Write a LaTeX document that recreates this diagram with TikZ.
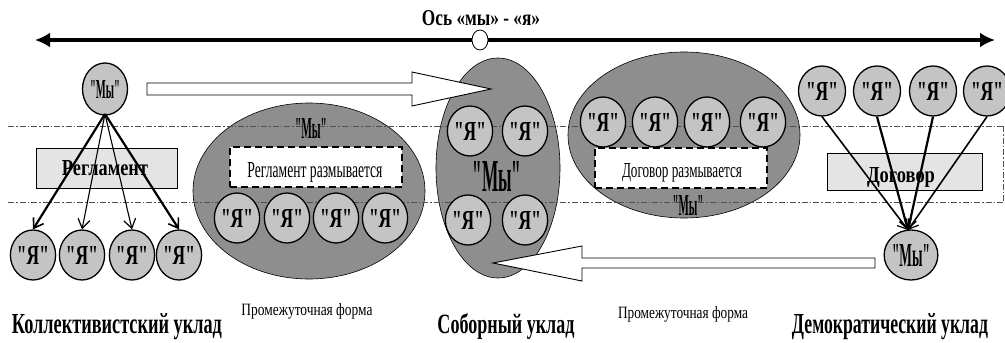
\documentclass[tikz,border=0pt]{standalone}
\usepackage{fontspec}
\setmainfont{Liberation Serif}[Ligatures=TeXOff]
\usepackage{graphicx}
\usetikzlibrary{shapes.geometric,arrows.meta}
\definecolor{bigfill}{HTML}{8E8E8E}
\definecolor{smallfill}{HTML}{C4C4C4}
\definecolor{boxfill}{HTML}{E4E4E4}
\definecolor{guidecol}{HTML}{505050}
\newcommand{\fitt}[3]{\resizebox{#1pt}{#2pt}{\bfseries #3}}
\newcommand{\fitn}[3]{\resizebox{#1pt}{#2pt}{#3}}
\newcommand{\qq}{"}
\newcommand{\Ya}{\fitt{32}{18}{\qq Я\qq}}
\begin{document}
\begin{tikzpicture}[x=1pt,y=-1pt,
  ya/.style={ellipse,draw,line width=1.3pt,fill=smallfill,minimum width=45pt,minimum height=50pt,inner sep=0pt},
  big/.style={ellipse,draw,line width=0.6pt,fill=bigfill,inner sep=0pt},
  rulebox/.style={rectangle,draw,line width=0.6pt,fill=boxfill,inner sep=0pt},
  dashbox/.style={rectangle,draw,line width=1.6pt,dash pattern=on 7pt off 4pt,fill=white,inner sep=0pt},
  guide/.style={line width=0.7pt,dash pattern=on 6pt off 2pt on 1.5pt off 2pt,guidecol},
  lbl/.style={inner sep=0pt,anchor=base},
  thickarr/.style={line width=2.2pt,-{Straight Barb[length=9pt,width=12pt,line width=1.6pt]}},
  thinarr/.style={line width=1.1pt,-{Straight Barb[length=9pt,width=12pt,line width=1.2pt]}},
  hollow/.style={draw,line width=0.9pt,fill=white,line join=miter}
]
\useasboundingbox (0,0) rectangle (1005,343);

% axis
\coordinate (axL) at (35,40);
\coordinate (axR) at (995,40);
\draw[line width=3.5pt,{Latex[length=15pt,width=15pt]}-{Latex[length=15pt,width=15pt]}] (axL) -- (axR);
\node[ellipse,draw,line width=0.8pt,fill=white,minimum width=16pt,minimum height=20pt,inner sep=0pt] (mid) at (480,40) {};
\node[lbl] (title) at (481,25) {\fitt{118}{15}{Ось «мы» - «я»}};

% big ellipses
\node[big,minimum width=232pt,minimum height=176pt] (eL) at (309,191) {};
\node[big,minimum width=124pt,minimum height=220pt] (eM) at (498,168) {};
\node[big,minimum width=232pt,minimum height=166pt] (eR) at (684,135) {};

% guide lines
\draw[guide] (8,126) -- (1003,126);
\draw[guide] (8,202) -- (1003,202);
\draw[guide] (1003,126) -- (1003,202);

% left: collectivist
\node[rulebox,minimum width=141pt,minimum height=40pt] (reg) at (106.5,168) {};
\node[lbl] (regt) at (105,175) {\fitt{86}{15}{Регламент}};
\node[ya,minimum width=45pt,minimum height=52pt] (myL) at (105,89) {\fitt{30}{18}{\qq Мы\qq}};
\node[ya] (yL1) at (33,255) {\Ya};
\node[ya] (yL2) at (82,255) {\Ya};
\node[ya] (yL3) at (132,255) {\Ya};
\node[ya] (yL4) at (179,255) {\Ya};
\coordinate (myLb) at (105,114);
\draw[thickarr] (myLb) -- (yL1.north);
\draw[thinarr] (myLb) -- (yL2.north);
\draw[thinarr] (myLb) -- (yL3.north);
\draw[thickarr] (myLb) -- (yL4.north);
\node[lbl] (coll) at (117,333) {\fitt{210}{20}{Коллективистский уклад}};

% left intermediate
\node[lbl] (myE1) at (311,138) {\fitt{32}{20}{\qq Мы\qq}};
\node[dashbox,minimum width=172pt,minimum height=40pt] (regR) at (316,167) {};
\node[lbl] (regRt) at (315,177) {\fitn{135}{15}{Регламент размывается}};
\node[ya] (yE1) at (237,218) {\Ya};
\node[ya] (yE2) at (287,218) {\Ya};
\node[ya] (yE3) at (336,218) {\Ya};
\node[ya] (yE4) at (385,218) {\Ya};
\node[lbl] (pf1) at (307,315) {\fitn{131}{12}{Промежуточная форма}};

% middle sobornyi
\node[ya] (yM1) at (470,131) {\Ya};
\node[ya] (yM2) at (525,131) {\Ya};
\node[ya] (yM3) at (468,220) {\Ya};
\node[ya] (yM4) at (525,220) {\Ya};
\node (myM) at (497,176) {\fitt{49}{30}{\qq Мы\qq}};
\node[lbl] (sob) at (506,333) {\fitt{137}{20}{Соборный уклад}};

% right intermediate
\node[ya] (yD1) at (603,122) {\Ya};
\node[ya] (yD2) at (655,122) {\Ya};
\node[ya] (yD3) at (707,122) {\Ya};
\node[ya] (yD4) at (763,122) {\Ya};
\node[dashbox,minimum width=172pt,minimum height=40pt] (dogR) at (681,168) {};
\node[lbl] (dogRt) at (682,177) {\fitn{120}{14}{Договор размывается}};
\node[lbl] (myE2) at (688,215) {\fitt{31}{20}{\qq Мы\qq}};
\node[lbl] (pf2) at (683,318) {\fitn{130}{12}{Промежуточная форма}};

% right: democratic
\node[rulebox,minimum width=155pt,minimum height=37pt] (dog) at (904.5,171.5) {};
\node[lbl] (dogt) at (901,182) {\fitt{68}{15}{Договор}};
\node[ya,minimum width=47pt] (yR1) at (822,91) {\Ya};
\node[ya,minimum width=47pt] (yR2) at (877,91) {\Ya};
\node[ya,minimum width=47pt] (yR3) at (933,91) {\Ya};
\node[ya,minimum width=47pt] (yR4) at (987,91) {\Ya};
\node[ya,minimum width=48pt,minimum height=50pt] (myR) at (911,255) {\fitt{38}{22}{\qq Мы\qq}};
\coordinate (myRt) at (908,230);
\draw[thinarr,line width=1.6pt] (yR1.south) -- (myRt);
\draw[thickarr] (yR2.south) -- (myRt);
\draw[thickarr] (yR3.south) -- (myRt);
\draw[thinarr,line width=1.6pt] (yR4.south) -- (myRt);
\node[lbl] (dem) at (890,333) {\fitt{196}{20}{Демократический уклад}};

% hollow arrows
\draw[hollow] (147,83) -- (412,83) -- (412,72) -- (491,89) -- (412,106) -- (412,95) -- (147,95) -- cycle;
\draw[hollow] (875,258) -- (582,258) -- (582,246) -- (493,263) -- (582,281) -- (582,268) -- (875,268) -- cycle;
\end{tikzpicture}
\end{document}
